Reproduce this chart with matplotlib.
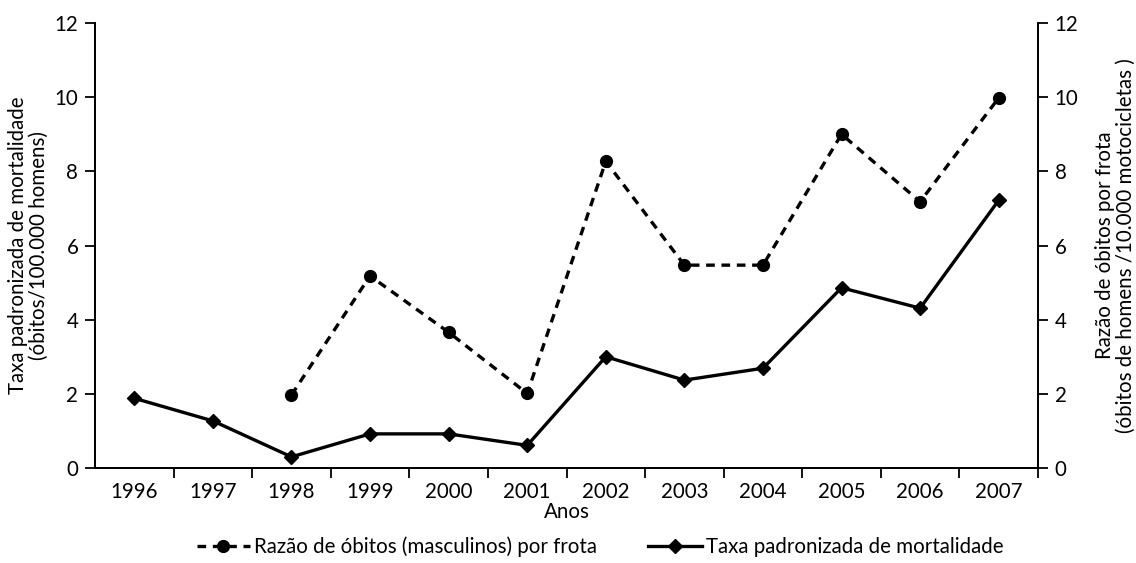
import matplotlib
matplotlib.use("Agg")
import matplotlib.pyplot as plt
from matplotlib.lines import Line2D

plt.rcParams['font.family'] = ['Lato', 'DejaVu Sans']

years = ["1996", "1997", "1998", "1999", "2000", "2001", "2002", "2003", "2004", "2005", "2006", "2007"]
taxa = [1.88, 1.27, 0.30, 0.92, 0.92, 0.61, 3.0, 2.37, 2.69, 4.86, 4.31, 7.22]
razao_years = ["1998", "1999", "2000", "2001", "2002", "2003", "2004", "2005", "2006", "2007"]
razao = [1.97, 5.18, 3.66, 2.01, 8.27, 5.47, 5.47, 9.0, 7.18, 9.98]
yticks = [0, 2, 4, 6, 8, 10, 12]

FS = 14.8
DASH = (0, (2.6, 2.0))

fig = plt.figure(figsize=(11.36, 5.63), dpi=100)
ax = fig.add_axes([95/1136, 1-468/563, (1038-95)/1136, (468-23)/563])
ax2 = ax.twinx()

xi = list(range(len(years)))
rx = [years.index(y) for y in razao_years]

ax.plot(xi, taxa, color='black', lw=2.4, marker='D', ms=7.5, zorder=3)
ax2.plot(rx, razao, color='black', lw=2.4, ls=DASH, marker='o', ms=8.5, zorder=3)

for a in (ax, ax2):
    a.set_ylim(0, 12)
    a.set_yticks(yticks)
    a.set_xlim(-0.5, len(years) - 0.5)
    a.spines['top'].set_visible(False)
    for s in a.spines.values():
        s.set_linewidth(1.3)

ax.set_xticks([i - 0.5 for i in range(1, len(years) + 1)])
ax.set_xticklabels([])
ax.set_xticks(xi, minor=True)
ax.set_xticklabels(years, minor=True, fontsize=FS)
ax.tick_params(axis='x', which='minor', length=0, pad=10)
ax.tick_params(axis='x', which='major', length=7, width=1.3, direction='out')
ax.tick_params(axis='y', length=7, width=1.3, labelsize=FS, pad=5)
ax2.tick_params(axis='y', length=7, width=1.3, labelsize=FS, pad=5)

ax.set_xlabel("Anos", fontsize=FS, labelpad=0)
ax.set_ylabel("Taxa padronizada de mortalidade\n(óbitos/100.000 homens)", fontsize=FS, labelpad=4, linespacing=1.05)
ax2.set_ylabel("Razão de óbitos por frota\n(óbitos de homens /10.000 motocicletas )", fontsize=FS, labelpad=12, linespacing=1.05)

handles = [
    Line2D([], [], color='black', lw=2.4, ls=DASH, marker='o', ms=8.5),
    Line2D([], [], color='black', lw=2.4, marker='D', ms=7.5),
]
fig.legend(handles, ["Razão de óbitos (masculinos) por frota", "Taxa padronizada de mortalidade"],
           loc='center', bbox_to_anchor=(600/1136, 1-547/563), ncol=2, frameon=False,
           fontsize=FS, handlelength=2.6, handletextpad=0.2, columnspacing=2.5)

fig.savefig("out.png", dpi=100)
